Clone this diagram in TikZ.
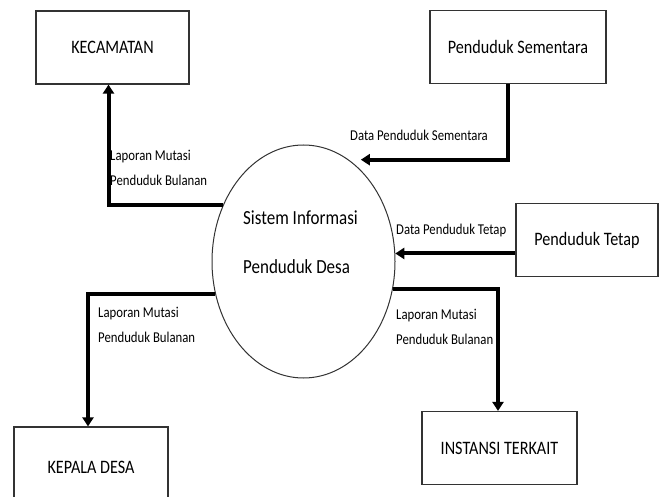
\documentclass[tikz,border=0pt]{standalone}
\usepackage{fontspec}
\setmainfont{Carlito}[FakeStretch=0.85]
\usetikzlibrary{arrows.meta,positioning,shapes.geometric}

\tikzset{
  entity/.style={draw=black!80, line width=1.2pt, rectangle, minimum height=73pt, font=\fontsize{19}{23}\selectfont},
  flow/.style={line width=4pt, -{Triangle[length=9pt,width=11pt]}},
  flowlabel/.style={anchor=west, inner sep=0pt, align=left, font=\fontsize{15}{18}\selectfont},
}

\begin{document}
\begin{tikzpicture}[x=1pt, y=-1pt]
\useasboundingbox (0,0) rectangle (659,497);

% external entities
\node (kec) [entity, minimum width=153pt] at (112.5,47.5) {KECAMATAN};
\node (sem) [entity, minimum width=176pt] at (518,47) {Penduduk Sementara};
\node (tetap) [entity, minimum width=142pt] at (587,240) {Penduduk Tetap};
\node (kades) [entity, minimum width=154pt, minimum height=80pt] at (91,467) {KEPALA DESA};
\node (inst) [entity, minimum width=155pt] at (499.5,448) {INSTANSI TERKAIT};

% process
\node (sid) [draw=black!80, line width=1pt, ellipse, minimum width=183pt, minimum height=233pt, inner sep=0pt] at (303.5,261.5) {};
\node (sidtext) [align=left, font=\fontsize{20}{24}\selectfont] at ([xshift=-3pt,yshift=19pt]sid.center) {Sistem Informasi\\[25pt]Penduduk Desa};

% data flows
\draw [flow] (sid.145) -| ([xshift=-4pt]kec.south);
\draw [flow] ([xshift=-10pt]sem.south) |- ([xshift=12pt]sid.66);
\draw [flow] (tetap.west |- sid.5) -- (sid.5);
\draw [flow] (sid.200) -| ([xshift=-3pt]kades.north);
\draw [flow] (sid.-17) -| ([xshift=-1.5pt]inst.north);

\node (lapkec) [flowlabel] at (110,167.5) {Laporan Mutasi\\[7pt]Penduduk Bulanan};
\node (datasem) [flowlabel] at (350,135) {Data Penduduk Sementara};
\node (datatetap) [flowlabel] at (396,231) {Data Penduduk Tetap};
\node (lapkades) [flowlabel] at (98,325) {Laporan Mutasi\\[7pt]Penduduk Bulanan};
\node (lapinst) [flowlabel] at (396,326.5) {Laporan Mutasi\\[7pt]Penduduk Bulanan};
\end{tikzpicture}
\end{document}
